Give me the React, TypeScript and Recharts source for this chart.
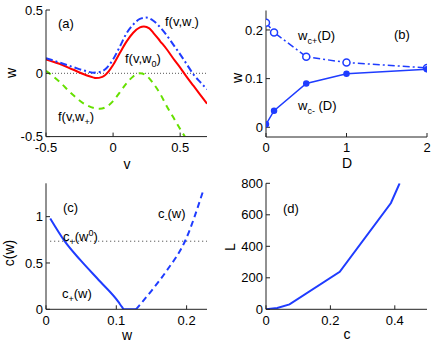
import React from 'react';
import { LineChart, Line, XAxis, YAxis, ReferenceLine } from 'recharts';

// (a) f(v,w) curves
const vA = [-0.5, -0.4, -0.3, -0.2, -0.15, -0.13, -0.08, -0.03, 0.0, 0.05, 0.1, 0.15, 0.2, 0.23, 0.27, 0.3, 0.35, 0.4, 0.45, 0.5, 0.55, 0.6, 0.65, 0.7];
const fW0 = [0.11, 0.075, 0.03, -0.015, -0.032, -0.038, -0.028, 0.02, 0.065, 0.16, 0.25, 0.32, 0.363, 0.37, 0.355, 0.32, 0.255, 0.19, 0.115, 0.045, -0.03, -0.1, -0.17, -0.24];
const vMinus = [-0.5, -0.4, -0.3, -0.2, -0.15, -0.1, -0.05, 0.0, 0.05, 0.1, 0.15, 0.2, 0.245, 0.3, 0.35, 0.4, 0.45, 0.5, 0.55, 0.6, 0.65, 0.7];
const fWMinus = [0.12, 0.085, 0.05, 0.017, 0.005, 0.01, 0.04, 0.11, 0.21, 0.315, 0.385, 0.43, 0.44, 0.415, 0.365, 0.3, 0.225, 0.15, 0.07, -0.01, -0.07, -0.126];
const vPlus = [-0.5, -0.4, -0.3, -0.2, -0.1, -0.05, 0.0, 0.05, 0.1, 0.15, 0.2, 0.25, 0.3, 0.35, 0.4, 0.45, 0.5, 0.535];
const fWPlus = [0.02, -0.066, -0.17, -0.25, -0.28, -0.265, -0.22, -0.15, -0.08, -0.025, 0.0, -0.02, -0.08, -0.16, -0.26, -0.35, -0.44, -0.5];
const zeroLevel = 0;

// (b) critical w versus D
const dValues = [0, 0.1, 0.5, 1, 2];
const wcPlus = [0.215, 0.195, 0.145, 0.133, 0.122];
const wcMinus = [0.006, 0.034, 0.09, 0.11, 0.119];

// (c) speed c(w)
const wPlusPts = [0.006, 0.027, 0.049, 0.077, 0.103, 0.108, 0.111, 0.128];
const cPlus = [0.98, 0.73, 0.53, 0.3, 0.08, 0.025, 0, 0];
const wMinusPts = [0.128, 0.15, 0.172, 0.198, 0.224];
const cMinus = [0, 0.2, 0.42, 0.74, 1.29];
const w0Range = [0.006, 0.229];
const cW0 = 0.735;

// (d) L versus c
const cValues = [0, 0.035, 0.073, 0.229, 0.388, 0.415];
const lValues = [0, 8, 31, 238, 675, 800];

const zip = (xs: number[], ys: number[]) => xs.map((x, i) => ({ x, y: ys[i] }));

const BLUE = '#1f3cff';
const FONT = '"Liberation Sans", Arial, sans-serif';
const AX = '#222';

type PanelProps = {
  left: number; top: number; plot: [number, number, number, number];
  xDomain: number[]; xTicks: number[]; yDomain: number[]; yTicks: number[];
  children: React.ReactNode;
};

const W = 218, H = 172;

function Panel({ left, top, plot, xDomain, xTicks, yDomain, yTicks, children }: PanelProps) {
  const [pl, pt, pr, pb] = plot;
  const yw = 40, xh = 25;
  const tick = { fill: '#000', fontSize: 13, fontFamily: FONT };
  const blank = () => '';
  return (
    <div style={{ position: 'absolute', left, top, width: W, height: H }}>
      <LineChart width={W} height={H}
        margin={{ left: pl - left - yw, top: pt - top, right: left + W - pr, bottom: top + H - pb - xh }}>
        <XAxis type="number" dataKey="x" domain={xDomain} ticks={xTicks} allowDataOverflow interval={0}
          height={xh} tickSize={-4} tickMargin={10} stroke={AX} tick={tick} />
        <XAxis xAxisId="t" orientation="top" type="number" dataKey="x" domain={xDomain} ticks={xTicks}
          allowDataOverflow interval={0} height={0} tickSize={-4} stroke={AX} tickFormatter={blank} />
        <YAxis type="number" domain={yDomain} ticks={yTicks} allowDataOverflow interval={0}
          width={yw} tickSize={-4} tickMargin={7} stroke={AX} tick={tick} />
        <YAxis yAxisId="r" orientation="right" type="number" domain={yDomain} ticks={yTicks}
          allowDataOverflow interval={0} width={0} tickSize={-4} stroke={AX} tickFormatter={blank} />
        {children}
      </LineChart>
    </div>
  );
}

const sub = (s: string) => <tspan dy={4} fontSize={9}>{s}</tspan>;

export default function App() {
  return (
    <div style={{ position: 'absolute', left: 0, top: 0, width: 436, height: 343, background: '#fff' }}>
      <Panel left={0} top={0} plot={[46, 10, 207, 136.6]} xDomain={[-0.5, 0.7]} xTicks={[-0.5, 0, 0.5]}
        yDomain={[-0.5, 0.5]} yTicks={[-0.5, 0, 0.5]}>
        <ReferenceLine y={zeroLevel} stroke="#555" strokeDasharray="1 2" />
        <Line data={zip(vA, fW0)} dataKey="y" type="monotone" stroke="#ff0000" strokeWidth={2} dot={false} isAnimationActive={false} />
        <Line data={zip(vMinus, fWMinus)} dataKey="y" type="monotone" stroke={BLUE} strokeWidth={2} strokeDasharray="7 3 2 3" dot={false} isAnimationActive={false} />
        <Line data={zip(vPlus, fWPlus)} dataKey="y" type="monotone" stroke="#66e000" strokeWidth={2} strokeDasharray="6 5" dot={false} isAnimationActive={false} />
      </Panel>
      <Panel left={218} top={0} plot={[266, 10.5, 427, 137]} xDomain={[0, 2]} xTicks={[0, 1, 2]}
        yDomain={[-0.02, 0.24]} yTicks={[0, 0.1, 0.2]}>
        <Line data={zip(dValues, wcPlus)} dataKey="y" type="linear" stroke={BLUE} strokeWidth={1.5} strokeDasharray="7 3 2 3"
          dot={{ r: 3.5, stroke: BLUE, strokeWidth: 1.5, fill: '#fff', strokeDasharray: 'none' }} isAnimationActive={false} />
        <Line data={zip(dValues, wcMinus)} dataKey="y" type="linear" stroke={BLUE} strokeWidth={1.5}
          dot={{ r: 2.5, stroke: BLUE, fill: BLUE }} isAnimationActive={false} />
      </Panel>
      <Panel left={0} top={172} plot={[46, 183.3, 207, 309.3]} xDomain={[0, 0.229]} xTicks={[0, 0.1, 0.2]}
        yDomain={[0, 1.36]} yTicks={[0, 0.5, 1]}>
        <Line data={zip(w0Range, [cW0, cW0])} dataKey="y" type="linear" stroke="#333" strokeWidth={1} strokeDasharray="1 3" dot={false} isAnimationActive={false} />
        <Line data={zip(wPlusPts, cPlus)} dataKey="y" type="monotone" stroke={BLUE} strokeWidth={2} dot={false} isAnimationActive={false} />
        <Line data={zip(wMinusPts, cMinus)} dataKey="y" type="monotone" stroke={BLUE} strokeWidth={2} strokeDasharray="6 4" dot={false} isAnimationActive={false} />
      </Panel>
      <Panel left={218} top={172} plot={[266, 183.3, 427, 309.3]} xDomain={[0, 0.5]} xTicks={[0, 0.2, 0.4]}
        yDomain={[0, 800]} yTicks={[0, 200, 400, 600, 800]}>
        <Line data={zip(cValues, lValues)} dataKey="y" type="linear" stroke={BLUE} strokeWidth={2} dot={false} isAnimationActive={false} />
      </Panel>
      <svg width={436} height={343} style={{ position: 'absolute', left: 0, top: 0, pointerEvents: 'none' }}
        fontFamily={FONT} fontSize={13} fill="#000">
        {/* axis titles */}
        <g fontSize={14} textAnchor="middle">
          <text x={11} y={73} transform="rotate(-90 11 73)" dominantBaseline="central">w</text>
          <text x={127} y={164} dominantBaseline="central">v</text>
          <text x={237} y={78} transform="rotate(-90 237 78)" dominantBaseline="central">w</text>
          <text x={347} y={163} dominantBaseline="central">D</text>
          <text x={9} y={253} transform="rotate(-90 9 253)" dominantBaseline="central">c(w)</text>
          <text x={127} y={335} dominantBaseline="central">w</text>
          <text x={230} y={247} transform="rotate(-90 230 247)" dominantBaseline="central">L</text>
          <text x={347} y={334} dominantBaseline="central">c</text>
        </g>
        {/* (a) */}
        <text x={58} y={28}>(a)</text>
        <text x={165} y={26}>f(v,w{sub('-')}<tspan dy={-4}>)</tspan></text>
        <text x={125} y={63}>f(v,w{sub('0')}<tspan dy={-4}>)</tspan></text>
        <text x={58} y={121}>f(v,w{sub('+')}<tspan dy={-4}>)</tspan></text>
        {/* (b) */}
        <text x={394} y={39}>(b)</text>
        <text x={298} y={40}>w{sub('c+')}<tspan dy={-4}>(D)</tspan></text>
        <text x={298} y={110}>w{sub('c-')}<tspan dy={-4}> (D)</tspan></text>
        {/* (c) */}
        <text x={63} y={212}>(c)</text>
        <text x={63} y={241}>c{sub('+')}<tspan dy={-4}>(w</tspan><tspan dy={-5} fontSize={9}>0</tspan><tspan dy={5}>)</tspan></text>
        <text x={158} y={218}>c{sub('-')}<tspan dy={-4}>(w)</tspan></text>
        <text x={62} y={298}>c{sub('+')}<tspan dy={-4}>(w)</tspan></text>
        {/* (d) */}
        <text x={283} y={213}>(d)</text>
      </svg>
    </div>
  );
}
